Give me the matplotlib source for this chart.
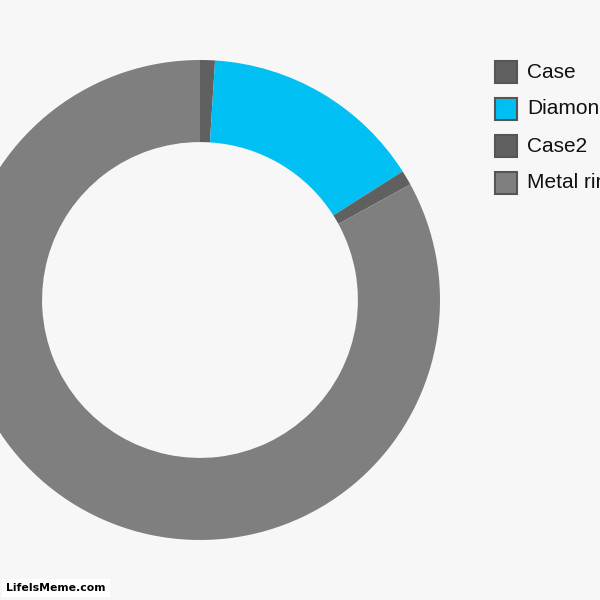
import matplotlib.pyplot as plt
from matplotlib.patches import Rectangle

labels = ['Case', 'Diamond', 'Case2', 'Metal ring']
values = [1, 15, 1, 83]
colors = ['#606060', '#00bff3', '#606060', '#7f7f7f']

bg = '#f7f7f7'
fig = plt.figure(figsize=(6, 6), dpi=100, facecolor=bg)
ax = fig.add_axes([0, 0, 1, 1])
ax.set_facecolor(bg)

# donut: centre at (200, 300) px, outer radius 240 px, inner ~158 px
ax.pie(values, colors=colors, startangle=90, counterclock=False, radius=1,
       wedgeprops=dict(width=0.342, linewidth=0))
ax.set_xlim(-200 / 240, 400 / 240)
ax.set_ylim(-300 / 240, 300 / 240)
ax.set_aspect('equal')
ax.axis('off')

# legend drawn by hand so that it runs off the right edge like the original
for i, (lab, col) in enumerate(zip(labels, colors)):
    top = 60 + i * 37
    fig.patches.append(Rectangle((495 / 600, 1 - (top + 23) / 600), 22 / 600, 22 / 600,
                                 transform=fig.transFigure, facecolor=col,
                                 edgecolor='#555555', linewidth=1.5))
    fig.text(527 / 600, 1 - (top + 12) / 600, lab, fontsize=15, family='Liberation Sans',
             color='#111111', va='center', ha='left')

fig.text(6 / 600, 1 - 588 / 600, 'LifeIsMeme.com', fontsize=7.8, fontweight='bold',
         family='DejaVu Sans', color='black', va='center', ha='left',
         bbox=dict(facecolor='white', edgecolor='none', pad=3))

fig.savefig('out.png', dpi=100, facecolor=bg)
